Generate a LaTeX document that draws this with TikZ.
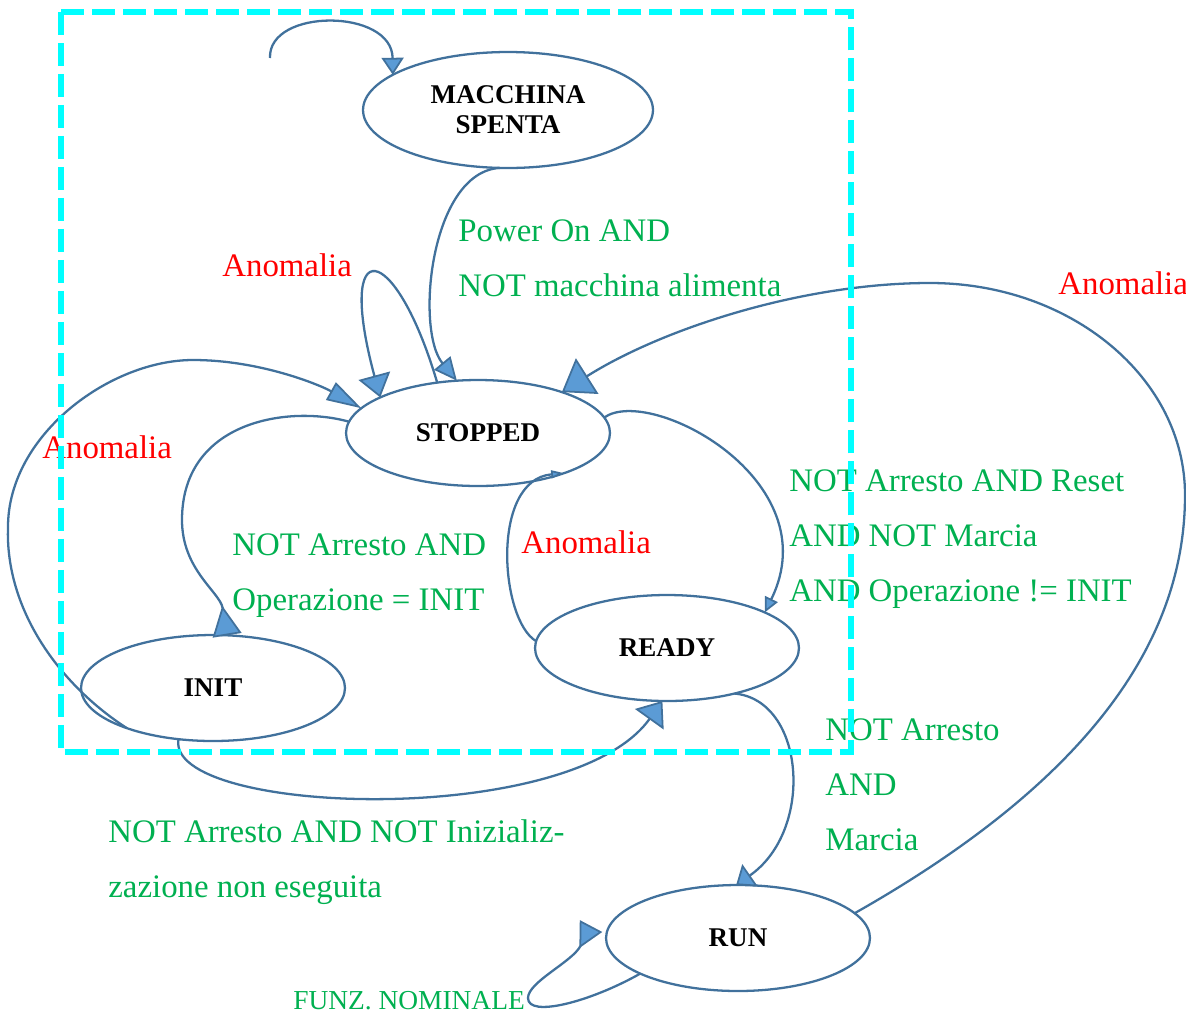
\documentclass[tikz,border=0pt]{standalone}
\usepackage{fontspec}
\setmainfont{Liberation Serif}
\usepackage{tikz}
\usetikzlibrary{positioning,arrows.meta,shapes.geometric,calc}

\definecolor{edgeblue}{RGB}{65,113,156}
\definecolor{tipblue}{RGB}{91,155,213}
\definecolor{condgreen}{RGB}{0,176,80}
\definecolor{boxcyan}{RGB}{0,255,255}

\begin{document}
\begin{tikzpicture}[
  x=0.02cm,y=-0.02cm,
  state/.style={ellipse,draw=edgeblue,line width=1.3pt,inner sep=0pt,outer sep=0pt,
                minimum width=5.28cm,minimum height=2.12cm,align=center,
                font=\fontsize{15.4}{17}\selectfont\bfseries},
  link/.style={draw=edgeblue,line width=1.3pt},
  head/.style 2 args={-{Triangle[length=#1,width=#2,fill=tipblue,line width=1pt]}},
  rhead/.style 2 args={-{Triangle[reversed,length=#1,width=#2,fill=tipblue,line width=1pt]}},
  cond/.style={text=condgreen,inner sep=0pt,align=left,
               font=\fontsize{18.7}{31.3}\selectfont},
  fault/.style={text=red,inner sep=0pt,anchor=west,
                font=\fontsize{18.7}{22}\selectfont},
]
  \useasboundingbox (0,0) rectangle (1186,1015);

  \node[state,minimum width=5.8cm,minimum height=2.32cm] (spenta) at (508,110) {MACCHINA\\SPENTA};
  \node[state] (stopped) at (478,433) {STOPPED};
  \node[state] (init) at (213,688) {INIT};
  \node[state] (ready) at (667,648) {READY};
  \node[state] (run) at (738,938) {RUN};

  \coordinate (entry) at (270,58);
  \draw[link,head={0.34cm}{0.44cm}] (entry) .. controls (268,8) and (392,8) .. (spenta.163);
  \draw[link,head={0.46cm}{0.42cm}] (spenta.262) .. controls (430,172) and (415,330) .. (stopped.112);
  \draw[link,head={0.45cm}{0.65cm}] (stopped.129) .. controls (395,240) and (335,230) .. (stopped.160);
  \draw[link,head={0.7cm}{0.4cm}] (init.205) .. controls (60,685) and (5,610) .. (8,527)
    .. controls (8,435) and (110,360) .. (193,360)
    .. controls (260,360) and (320,385) .. (stopped.168);
  \draw[link,rhead={0.6cm}{0.58cm}] (stopped.175) .. controls (290,405) and (182,420) .. (182,520)
    .. controls (182,570) and (220,592) .. (init.75);
  \draw[link,head={0.3cm}{0.28cm}] (stopped.7) .. controls (650,385) and (830,480) .. (ready.20);
  \draw[link,head={0.26cm}{0.16cm}] (ready.177) .. controls (500,620) and (490,480) .. (stopped.335);
  \draw[link,head={0.6cm}{0.84cm}] (run.12) .. controls (1090,780) and (1185,640) .. (1185,495)
    .. controls (1185,378) and (1071,283) .. (930,283)
    .. controls (800,283) and (660,330) .. (stopped.26);
  \draw[link,head={0.34cm}{0.54cm}] (ready.326) .. controls (805,700) and (815,830) .. (run.92);
  \draw[link,head={0.45cm}{0.7cm}] (init.236) .. controls (165,815) and (570,830) .. (ready.265);
  \draw[link,rhead={0.5cm}{0.5cm}] (run.200) .. controls (590,1002) and (528,1018) .. (528,998)
    .. controls (528,982) and (572,962) .. ([shift={(-15,-12)}]run.west);

  \node[cond,anchor=north west] (powerlbl) at (458,219) {Power On AND\\NOT macchina alimenta};
  \node[fault] (stoplbl) at (222,265) {Anomalia};
  \node[fault] (runlbl) at (1058,283) {Anomalia};
  \node[fault] (initlbl) at (42,447) {Anomalia};
  \node[fault] (readylbl) at (521,542) {Anomalia};
  \node[cond,anchor=north west] (toinitlbl) at (232,533) {NOT Arresto AND\\Operazione = INIT};
  \node[cond,anchor=north west] (toreadylbl) at (789,469) {NOT Arresto AND Reset\\AND NOT Marcia\\AND Operazione != INIT};
  \node[cond,anchor=north west] (torunlbl) at (825,718) {NOT Arresto\\AND\\Marcia};
  \node[cond,anchor=north west] (skiplbl) at (108,819) {NOT Arresto AND NOT Inizializ-\\zazione non eseguita};
  \node[cond,anchor=west,font=\fontsize{15.6}{18}\selectfont] (nominallbl) at (293,1001) {FUNZ. NOMINALE};

  \draw[boxcyan,line width=3.7pt,dash pattern=on 0.46cm off 0.16cm] (61,12) rectangle (851,752);
\end{tikzpicture}
\end{document}
